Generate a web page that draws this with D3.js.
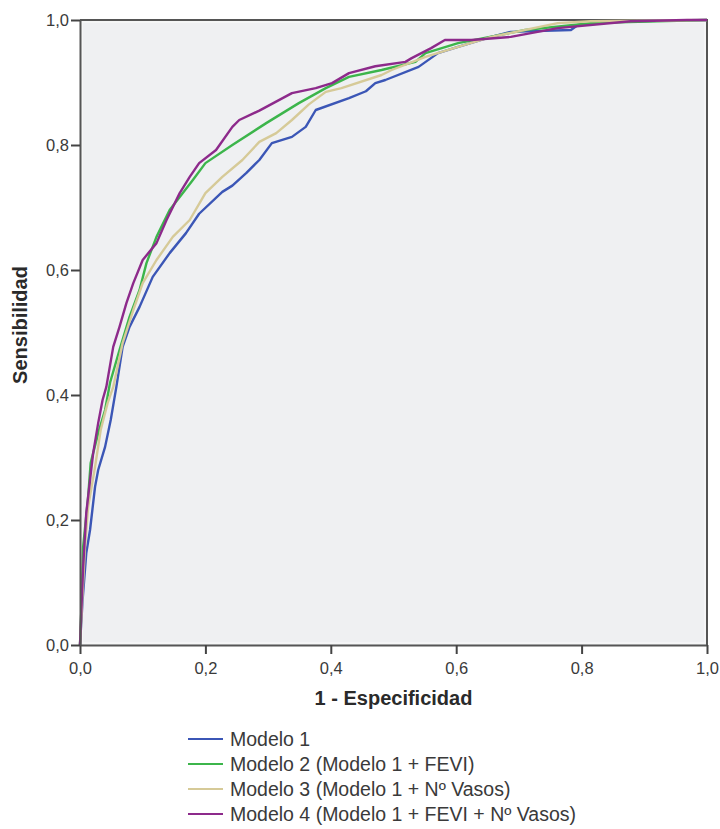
<!DOCTYPE html>
<html>
<head>
<meta charset="utf-8">
<script src="https://cdn.jsdelivr.net/npm/d3@7"></script>
<style>
  body { margin: 0; background: #fff; }
  svg { display: block; font-family: "Liberation Sans", Arial, sans-serif; }
</style>
</head>
<body>
<svg id="roc" width="720" height="829"></svg>
<script>
// ROC curves: [1 - especificidad, sensibilidad]
const modelo1 = [[0,0],[0.004,0.07],[0.01,0.147],[0.016,0.184],[0.024,0.253],[0.029,0.28],[0.04,0.317],
  [0.049,0.36],[0.058,0.413],[0.068,0.477],[0.079,0.509],[0.095,0.541],[0.116,0.589],[0.143,0.627],
  [0.169,0.659],[0.19,0.69],[0.227,0.725],[0.243,0.735],[0.265,0.755],[0.286,0.776],[0.306,0.803],
  [0.338,0.813],[0.36,0.829],[0.376,0.856],[0.429,0.875],[0.456,0.886],[0.471,0.899],[0.487,0.904],
  [0.54,0.925],[0.571,0.947],[0.603,0.957],[0.656,0.973],[0.687,0.981],[0.783,0.984],[0.794,0.992],
  [0.868,0.998],[1,1]];
const modelo2 = [[0,0],[0.003,0.08],[0.005,0.157],[0.013,0.237],[0.017,0.291],[0.029,0.339],[0.04,0.376],
  [0.048,0.42],[0.063,0.472],[0.079,0.525],[0.095,0.568],[0.106,0.611],[0.122,0.653],[0.143,0.696],
  [0.18,0.744],[0.2,0.771],[0.243,0.8],[0.297,0.835],[0.349,0.867],[0.392,0.891],[0.429,0.909],
  [0.481,0.92],[0.535,0.933],[0.551,0.947],[0.603,0.963],[0.71,0.984],[0.814,0.995],[0.921,0.998],[1,1]];
const modelo3 = [[0,0],[0.004,0.08],[0.008,0.157],[0.013,0.221],[0.024,0.285],[0.033,0.344],[0.044,0.387],
  [0.053,0.413],[0.068,0.483],[0.085,0.536],[0.1,0.579],[0.122,0.616],[0.148,0.653],[0.175,0.68],
  [0.2,0.723],[0.227,0.749],[0.259,0.776],[0.286,0.805],[0.313,0.819],[0.338,0.84],[0.365,0.865],
  [0.392,0.885],[0.417,0.891],[0.481,0.912],[0.497,0.92],[0.551,0.941],[0.603,0.957],[0.656,0.973],
  [0.762,0.995],[0.814,0.998],[1,1]];
const modelo4 = [[0,0],[0.002,0.051],[0.005,0.125],[0.01,0.211],[0.016,0.264],[0.021,0.307],[0.029,0.355],
  [0.036,0.392],[0.042,0.413],[0.053,0.477],[0.063,0.509],[0.074,0.547],[0.085,0.579],[0.1,0.616],
  [0.122,0.643],[0.138,0.68],[0.159,0.723],[0.175,0.749],[0.19,0.771],[0.217,0.792],[0.243,0.829],
  [0.254,0.84],[0.286,0.855],[0.338,0.883],[0.376,0.891],[0.402,0.899],[0.429,0.915],[0.471,0.926],
  [0.519,0.933],[0.529,0.939],[0.56,0.955],[0.582,0.968],[0.624,0.968],[0.687,0.973],[0.762,0.987],
  [0.878,0.998],[0.968,1],[1,1]];

const nombres = ["Modelo 1", "Modelo 2 (Modelo 1 + FEVI)", "Modelo 3 (Modelo 1 + Nº Vasos)",
                 "Modelo 4 (Modelo 1 + FEVI + Nº Vasos)"];
const colores = ["#3b56b6", "#3cb54b", "#d6ca98", "#8d2a8b"];
const ticks   = [0, 0.2, 0.4, 0.6, 0.8, 1.0];

const series = [modelo1, modelo2, modelo3, modelo4];

const svg = d3.select("#roc"),
      m   = {top:20, right:13, bottom:184, left:80},
      iw  = 720 - m.left - m.right,
      ih  = 829 - m.top - m.bottom;

const x = d3.scaleLinear().domain([0, 1]).range([0, iw]);
const y = d3.scaleLinear().domain([0, 1]).range([ih, 0]);
const fmt = d => d3.format(".1f")(d).replace(".", ",");

const g = svg.append("g")
    .attr("transform", `translate(${m.left},${m.top})`);

// plot background + frame
g.append("rect")
  .attr("width", iw).attr("height", ih)
  .attr("fill", "#eff0f2");
g.append("rect")
  .attr("x", 2).attr("y", 2)
  .attr("width", iw - 4).attr("height", ih - 4)
  .attr("fill", "none").attr("stroke", "#f7f7f8").attr("stroke-width", 1.5);
g.append("path")
  .attr("d", `M0,0H${iw}V${ih}`)
  .attr("fill", "none").attr("stroke", "#555").attr("stroke-width", 2);

// curves
const line = d3.line().x(d => x(d[0])).y(d => y(d[1]));
g.selectAll("path.curve")
  .data(series).enter().append("path")
    .attr("class", "curve")
    .attr("d", line)
    .attr("fill", "none")
    .attr("stroke", (d, i) => colores[i])
    .attr("stroke-width", 2.4)
    .attr("stroke-linejoin", "round");

// axes
const xAxis = g.append("g")
    .attr("transform", `translate(0,${ih})`)
    .call(d3.axisBottom(x).tickValues(ticks).tickFormat(fmt).tickSize(9).tickSizeOuter(0));
const yAxis = g.append("g")
    .call(d3.axisLeft(y).tickValues(ticks).tickFormat(fmt).tickSize(9).tickSizeOuter(0));

[xAxis, yAxis].forEach(a => {
  a.select(".domain").attr("stroke", "#555").attr("stroke-width", 2);
  a.selectAll(".tick line").attr("stroke", "#444").attr("stroke-width", 2);
  a.selectAll("text")
    .attr("fill", "#3a3a3a")
    .style("font-size", "16.5px")
    .style("font-family", "'Liberation Sans', Arial, sans-serif");
});
xAxis.selectAll("text").attr("dy", "1.05em");
yAxis.selectAll("text").attr("x", -11);

// axis titles
svg.append("text")
  .attr("x", m.left + iw / 2).attr("y", 705)
  .attr("text-anchor", "middle")
  .attr("fill", "#2a2a2a")
  .style("font-size", "20px").style("font-weight", "bold")
  .text("1 - Especificidad");

svg.append("text")
  .attr("transform", "translate(27,325) rotate(-90)")
  .attr("text-anchor", "middle")
  .attr("fill", "#2a2a2a")
  .style("font-size", "20px").style("font-weight", "bold")
  .text("Sensibilidad");

// legend
const legend = svg.append("g").attr("transform", "translate(188,739)");
nombres.forEach((n, i) => {
  const row = legend.append("g").attr("transform", `translate(0,${i * 25})`);
  row.append("line")
    .attr("x1", 0).attr("x2", 35)
    .attr("stroke", colores[i]).attr("stroke-width", 2);
  row.append("text")
    .attr("x", 42).attr("y", 7)
    .attr("fill", "#3a3a3a")
    .style("font-size", "19.5px")
    .text(n);
});
</script>
</body>
</html>
